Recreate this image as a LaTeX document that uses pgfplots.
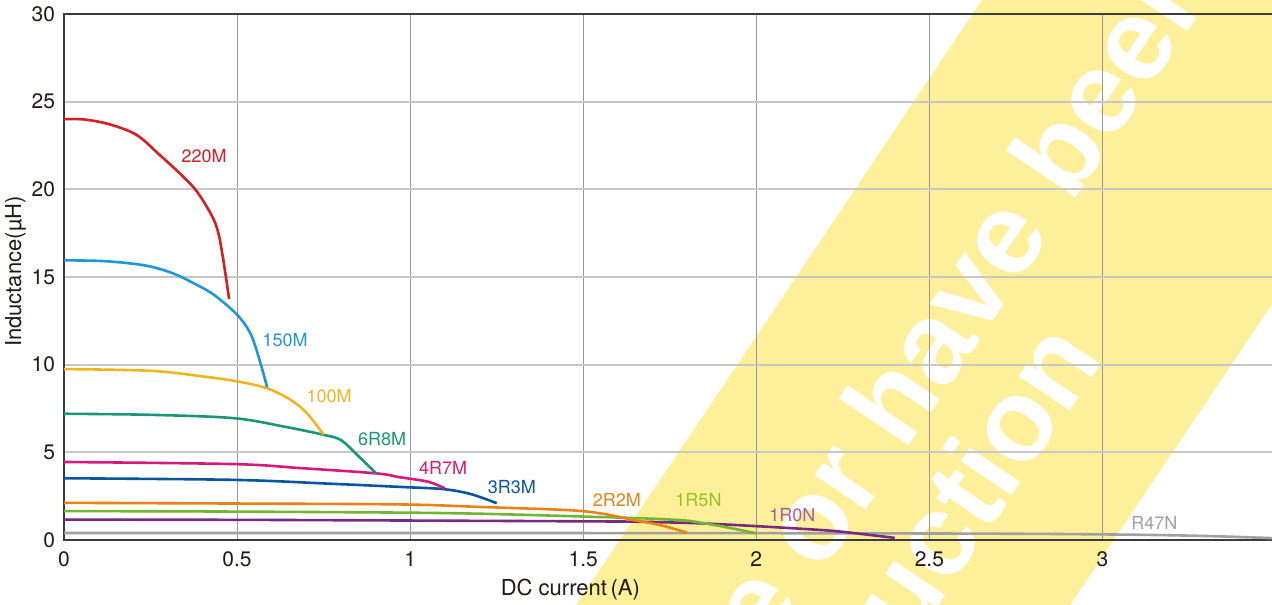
\documentclass[border=0pt]{standalone}
\usepackage{fontspec}
\setmainfont{TeX Gyre Heros}
\newfontfamily\wmfont{Liberation Sans}
\usepackage{pgfplots}
\pgfplotsset{compat=1.18}
\definecolor{cA}{RGB}{215,30,35}
\definecolor{cB}{RGB}{30,150,215}
\definecolor{cC}{RGB}{240,180,30}
\definecolor{cD}{RGB}{25,150,122}
\definecolor{cE}{RGB}{215,25,125}
\definecolor{cF}{RGB}{10,85,160}
\definecolor{cG}{RGB}{235,130,20}
\definecolor{cH}{RGB}{115,182,48}
\definecolor{cHl}{RGB}{150,195,30}
\definecolor{cI}{RGB}{122,40,128}
\definecolor{cIl}{RGB}{165,95,170}
\definecolor{cJ}{RGB}{160,160,160}
\definecolor{txt}{RGB}{35,24,21}
\definecolor{axc}{RGB}{60,60,60}
\definecolor{band}{RGB}{254,240,154}
\begin{document}
\begin{tikzpicture}
\useasboundingbox (0,0) rectangle (636pt,-302pt);
\begin{scope}[x=0.5pt, y=-0.5pt]
\clip (0,0) rectangle (1272,604);
\fill[band] (566,620) -- (990,-12) -- (1484,-12) -- (1060,620) -- cycle;
\begin{scope}[font=\wmfont\bfseries\fontsize{58}{60}\selectfont, text=white, inner sep=0pt]
\node[rotate=56, anchor=base west] at (1071,205) {been};
\node[rotate=56, anchor=base east] at (1052.6,232.4) {e or have};
\node[rotate=56, anchor=base west] at (986,535) {tion};
\node[rotate=56, anchor=base east] at (986,535) {produc};
\end{scope}
\end{scope}
\begin{axis}[
  at={(32pt,-270pt)}, anchor=south west,
  scale only axis, width=605.75pt, height=263pt,
  xmin=0, xmax=3.5, ymin=0, ymax=30,
  xtick={0,0.5,1,1.5,2,2.5,3}, ytick={0,5,10,15,20,25,30},
  /pgf/number format/assume math mode=true,
  tick label style={font=\fontsize{10.5}{12}\selectfont, text=txt},
  xticklabel style={yshift=-2.5pt},
  yticklabel style={xshift=-1pt},
  major tick length=0pt,
  grid=major,
  x grid style={draw=black!40, line width=0.5pt},
  y grid style={draw=black!22, line width=0.9pt},
  axis line style={draw=axc, line width=0.7pt},
  xlabel={DC current\,(A)},
  ylabel={Inductance(µH)},
  label style={font=\fontsize{11}{13}\selectfont, text=txt, inner sep=0pt},
  xlabel style={at={(axis description cs:0.418,0)}, anchor=base, yshift=-27.5pt},
  ylabel style={at={(axis description cs:-0.031,0.51)}, anchor=south, rotate=0},
  every axis plot/.append style={line width=1.3pt, smooth, tension=0.55, no markers},
  clip=true,
]
\addplot[cJ] coordinates {(0,0.40) (1,0.40) (2,0.39) (2.7,0.36) (3.0,0.32) (3.2,0.27) (3.35,0.20) (3.5,0.10)};
\addplot[cI] coordinates {(0,1.16) (0.5,1.15) (1.116,1.10) (1.55,1.06) (1.664,1.04) (1.84,0.95) (2.0,0.79) (2.155,0.61) (2.243,0.48) (2.40,0.12)};
\addplot[cH] coordinates {(0,1.65) (0.5,1.62) (1.116,1.53) (1.55,1.31) (1.664,1.24) (1.75,1.17) (1.81,1.08) (1.905,0.76) (2.0,0.38)};
\addplot[cG] coordinates {(0,2.12) (0.5,2.08) (0.97,2.03) (1.21,1.88) (1.45,1.71) (1.55,1.52) (1.645,1.14) (1.72,0.86) (1.80,0.42)};
\addplot[cF] coordinates {(0,3.52) (0.49,3.43) (0.78,3.2) (0.98,3.02) (1.097,2.9) (1.175,2.62) (1.25,2.1)};
\addplot[cE] coordinates {(0,4.45) (0.49,4.33) (0.684,4.1) (0.902,3.8) (0.97,3.58) (1.05,3.33) (1.10,2.95)};
\addplot[cD] coordinates {(0,7.2) (0.249,7.14) (0.49,6.95) (0.635,6.47) (0.75,6.0) (0.80,5.7) (0.847,4.85) (0.902,3.8)};
\addplot[cC] coordinates {(0,9.75) (0.249,9.65) (0.393,9.35) (0.5,9.05) (0.587,8.65) (0.654,8.0) (0.702,7.23) (0.75,6.0)};
\addplot[cB] coordinates {(0,15.95) (0.1,15.92) (0.18,15.8) (0.249,15.6) (0.316,15.2) (0.374,14.65) (0.432,14.0) (0.5,12.85) (0.538,11.8) (0.562,10.46) (0.587,8.71)};
\addplot[cA] coordinates {(0,24.0) (0.06,23.98) (0.133,23.7) (0.21,23.1) (0.277,21.95) (0.335,20.9) (0.383,19.9) (0.427,18.5) (0.446,17.5) (0.46,16.0) (0.477,13.75)};
\begin{scope}[font=\fontsize{9}{11}\selectfont]
\node[text=cA] at (axis cs:0.405,21.9) {220M};
\node[text=cB] at (axis cs:0.639,11.4) {150M};
\node[text=cC] at (axis cs:0.766,8.2) {100M};
\node[text=cD] at (axis cs:0.919,5.76) {6R8M};
\node[text=cE] at (axis cs:1.095,4.1) {4R7M};
\node[text=cF] at (axis cs:1.294,3.04) {3R3M};
\node[text=cG] at (axis cs:1.597,2.28) {2R2M};
\node[text=cHl] at (axis cs:1.833,2.28) {1R5N};
\node[text=cIl] at (axis cs:2.104,1.43) {1R0N};
\node[text=cJ] at (axis cs:3.15,0.99) {R47N};
\end{scope}
\end{axis}
\end{tikzpicture}
\end{document}
